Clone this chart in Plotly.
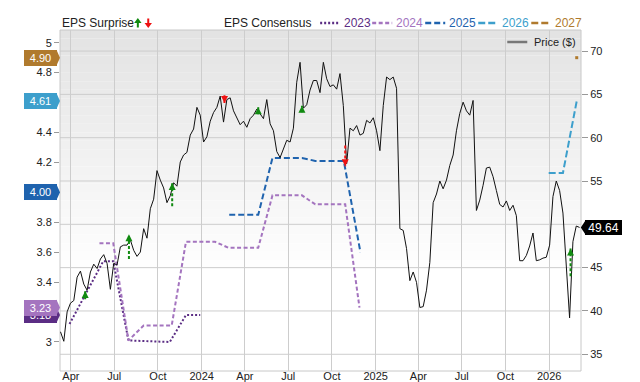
import pandas as pd
import plotly.graph_objects as go

# ---------------- data ----------------
price_start = "2023-03-10"
prices = [37.6, 36.5, 39.9, 40.9, 41.2, 43.9, 44.6, 43.1, 42.4, 44.5, 45.4, 44.9, 46.0, 46.5, 45.5,
          42.5, 45.5, 45.3, 47.4, 47.6, 47.6, 48.2, 47.0, 46.3, 46.8, 49.5, 48.4, 51.8, 52.9, 56.2,
          55.1, 54.2, 52.5, 53.3, 54.8, 54.4, 57.2, 58.0, 58.3, 60.3, 61.0, 63.5, 62.6, 59.5, 60.1,
          61.9, 62.9, 63.5, 64.8, 61.8, 64.4, 64.6, 63.1, 62.2, 61.5, 61.9, 61.2, 62.2, 62.6, 63.3,
          62.8, 62.2, 64.4, 61.6, 60.8, 58.4, 57.7, 58.8, 59.7, 59.5, 61.1, 66.4, 68.7, 63.4, 63.8,
          65.5, 66.6, 66.6, 65.2, 68.7, 66.8, 65.9, 66.1, 65.6, 67.4, 63.7, 57.0, 61.1, 60.8, 61.4,
          60.3, 60.5, 62.0, 61.7, 62.3, 60.8, 58.5, 63.7, 67.0, 66.7, 67.0, 65.7, 49.5, 49.3, 47.2,
          43.5, 44.5, 43.3, 40.4, 40.5, 42.4, 45.6, 52.5, 53.5, 55.0, 54.1, 55.1, 56.8, 58.0, 60.8,
          62.8, 64.1, 63.1, 62.6, 64.3, 51.6, 52.8, 54.5, 56.5, 56.6, 55.5, 53.9, 52.3, 52.0, 52.7,
          51.6, 52.2, 51.0, 45.8, 45.8, 46.4, 47.5, 49.0, 45.8, 45.9, 46.1, 46.2, 47.6, 53.2, 55.0,
          53.9, 51.3, 44.7, 39.2, 48.0, 49.8, 49.64]
price_dates = pd.date_range(price_start, periods=len(prices), freq="7D")

eps2023_dates = ["2023-03-29", "2023-06-08", "2023-06-29", "2023-07-31", "2023-10-26", "2023-11-29", "2023-12-29"]
eps2023_vals = [3.12, 3.54, 3.54, 3.01, 3.00, 3.18, 3.18]

eps2024_dates = ["2023-05-31", "2023-06-29", "2023-07-31", "2023-09-01", "2023-10-30", "2023-11-29",
                 "2024-01-29", "2024-02-26", "2024-04-29", "2024-05-29", "2024-07-30", "2024-08-27",
                 "2024-10-29", "2024-11-28"]
eps2024_vals = [3.66, 3.66, 3.01, 3.11, 3.11, 3.67, 3.67, 3.63, 3.63, 3.98, 3.98, 3.92, 3.92, 3.23]

eps2025_dates = ["2024-02-28", "2024-04-29", "2024-05-29", "2024-07-30", "2024-08-27", "2024-10-26", "2024-11-30"]
eps2025_vals = [3.85, 3.85, 4.23, 4.23, 4.21, 4.21, 3.60]

eps2026_dates = ["2025-12-31", "2026-01-30", "2026-02-28"]
eps2026_vals = [4.13, 4.13, 4.61]

eps2027_dates = ["2026-02-28"]
eps2027_vals = [4.90]

up_dates = ["2023-05-01", "2023-08-01", "2023-10-31", "2024-04-29", "2024-07-30", "2026-02-15"]
up_from = [41.35, 46.0, 52.1, 62.7, 62.95, 44.0]
up_to = [42.3, 48.85, 54.76, 63.5, 63.7, 47.2]
down_dates = ["2024-02-18", "2024-10-29"]
down_from = [64.9, 59.1]
down_to = [64.0, 56.7]

tag_labels = ["4.90", "4.61", "4.00", "3.18", "3.23"]
tag_values = [4.90, 4.61, 4.00, 3.18, 3.23]
tag_colors = ["#b07a2d", "#3d9fcc", "#1f63ae", "#5b2d84", "#a474bf"]
last_price = 49.64

# left tick labels visible (the others sit under the value tags)
left_tickvals = [3.0, 3.4, 3.6, 3.8, 4.2, 4.4, 4.8, 5.0]
left_ticktext = ["3", "3.4", "3.6", "3.8", "4.2", "4.4", "4.8", "5"]
right_tickvals = [35, 40, 45, 55, 60, 65, 70]
grid_right_vals = [35, 40, 45, 50, 55, 60, 65, 70]

x_tickvals = ["2023-04-01", "2023-07-01", "2023-10-01", "2024-01-01", "2024-04-01", "2024-07-01",
              "2024-10-01", "2025-01-01", "2025-04-01", "2025-07-01", "2025-10-01", "2026-01-01"]
x_ticktext = ["Apr", "Jul", "Oct", "2024", "Apr", "Jul", "Oct", "2025", "Apr", "Jul", "Oct", "2026"]

series_names = ["2023", "2024", "2025", "2026", "2027"]
series_colors = ["#5b2d84", "#a474bf", "#1f63ae", "#3d9fcc", "#b07a2d"]
series_dash = ["2px,2px", "4px,2.5px", "6px,3px", "7px,3px", "7px,3px"]

# ---------------- layout geometry ----------------
W, H = 640, 382
L, R, T, B = 60, 580.7, 30, 370.7
PW, PH = R - L, B - T
FONT = "Liberation Sans, Arial, sans-serif"


def px(xp):
    return (xp - L) / PW


def py(yp):
    return (B - yp) / PH


fig = go.Figure()

eps_sets = [(eps2023_dates, eps2023_vals), (eps2024_dates, eps2024_vals), (eps2025_dates, eps2025_vals),
            (eps2026_dates, eps2026_vals)]
for (d, v), name, col, dash in zip(eps_sets, series_names, series_colors, series_dash):
    fig.add_trace(go.Scatter(x=d, y=v, mode="lines", yaxis="y", name=name,
                             line=dict(color=col, width=2, dash=dash), hoverinfo="skip"))
fig.add_trace(go.Scatter(x=eps2027_dates, y=eps2027_vals, mode="markers", yaxis="y",
                         marker=dict(color=series_colors[4], size=3, symbol="square"), hoverinfo="skip"))

fig.add_trace(go.Scatter(x=price_dates, y=prices, mode="lines", yaxis="y2", name="Price ($)",
                         line=dict(color="#111111", width=1), hoverinfo="skip"))

# surprise arrows
ux, uy = [], []
for d, a, b in zip(up_dates, up_from, up_to):
    ux += [d, d, None]
    uy += [a, b, None]
dx, dy = [], []
for d, a, b in zip(down_dates, down_from, down_to):
    dx += [d, d, None]
    dy += [a, b, None]
fig.add_trace(go.Scatter(x=ux, y=uy, mode="lines", yaxis="y2", line=dict(color="#118a11", width=2, dash="3px,2px"),
                         hoverinfo="skip"))
fig.add_trace(go.Scatter(x=up_dates, y=up_to, mode="markers", yaxis="y2",
                         marker=dict(symbol="arrow-up", size=7, color="#118a11"), hoverinfo="skip"))
fig.add_trace(go.Scatter(x=dx, y=dy, mode="lines", yaxis="y2", line=dict(color="#ee1111", width=2, dash="3px,2px"),
                         hoverinfo="skip"))
fig.add_trace(go.Scatter(x=down_dates, y=down_to, mode="markers", yaxis="y2",
                         marker=dict(symbol="arrow-down", size=7, color="#ee1111"), hoverinfo="skip"))

shapes = []
# gradient background
N = 40
for i in range(N):
    t = (i + 0.5) / N
    v = int(round(227 + (255 - 227) * min(1.0, t / 0.72)))
    shapes.append(dict(type="rect", xref="paper", yref="paper", x0=0, x1=1,
                       y0=1 - i / N, y1=1 - (i + 1) / N, line=dict(width=0),
                       fillcolor=f"rgb({v},{v},{v})", layer="below"))
# horizontal price gridlines (incl. the one under the price tag)
for gv in grid_right_vals:
    shapes.append(dict(type="line", xref="paper", yref="y2", x0=0, x1=1, y0=gv, y1=gv,
                       line=dict(color="#cdcdcd", width=1), layer="below"))
shapes.append(dict(type="rect", xref="paper", yref="paper", x0=0, x1=1, y0=0, y1=1,
                   line=dict(color="#c8c8c8", width=1), layer="below"))

annotations = []
# header legend
annotations.append(dict(text="EPS Surprise", x=px(60), y=py(23), xref="paper", yref="paper",
                        xanchor="left", yanchor="middle", showarrow=False,
                        font=dict(size=12, color="#222", family=FONT)))
annotations.append(dict(text="EPS Consensus", x=px(222), y=py(23), xref="paper", yref="paper",
                        xanchor="left", yanchor="middle", showarrow=False,
                        font=dict(size=12, color="#222", family=FONT)))
gx, rx = 137.8, 148.2


def path(points):
    return "M " + " L ".join(f"{px(a):.5f},{py(b):.5f}" for a, b in points) + " Z"


shapes.append(dict(type="path", xref="paper", yref="paper", fillcolor="#118a11", line=dict(width=0),
                   path=path([(gx - 3.7, 23), (gx, 18), (gx + 3.7, 23), (gx + 1, 23), (gx + 1, 27.5),
                              (gx - 1, 27.5), (gx - 1, 23)])))
shapes.append(dict(type="path", xref="paper", yref="paper", fillcolor="#ee1111", line=dict(width=0),
                   path=path([(rx - 3.7, 23), (rx, 28), (rx + 3.7, 23), (rx + 1, 23), (rx + 1, 18.5),
                              (rx - 1, 18.5), (rx - 1, 23)])))

leg_x = [320, 372, 425, 478, 531]
for xs, name, col, dash in zip(leg_x, series_names, series_colors, series_dash):
    shapes.append(dict(type="line", xref="paper", yref="paper", x0=px(xs), x1=px(xs + 20),
                       y0=py(23), y1=py(23), line=dict(color=col, width=2.5, dash=dash)))
    annotations.append(dict(text=name, x=px(xs + 22), y=py(23), xref="paper", yref="paper",
                            xanchor="left", yanchor="middle", showarrow=False,
                            font=dict(size=12, color=col, family=FONT)))
# price legend
shapes.append(dict(type="line", xref="paper", yref="paper", x0=px(507), x1=px(527),
                   y0=py(42), y1=py(42), line=dict(color="#777", width=2.5)))
annotations.append(dict(text="Price ($)", x=px(532), y=py(42), xref="paper", yref="paper",
                        xanchor="left", yanchor="middle", showarrow=False,
                        font=dict(size=11, color="#222", family=FONT)))

# left value tags
for lab, val, col in zip(tag_labels, tag_values, tag_colors):
    annotations.append(dict(text=lab, x=px(40.3), y=val, xref="paper", yref="y", xanchor="center",
                            yanchor="middle", showarrow=False, width=33, height=16, bgcolor=col,
                            borderpad=0, borderwidth=0, font=dict(size=11, color="white", family=FONT)))
    shapes.append(dict(type="path", xref="paper", yref="y", xsizemode="pixel", ysizemode="pixel",
                       xanchor=0, yanchor=val, path="M -3.6,8 L 0,0 L -3.6,-8 Z",
                       fillcolor=col, line=dict(width=0)))
# right price tag
annotations.append(dict(text=f"{last_price:.2f}", x=px(603.5), y=last_price, xref="paper", yref="y2",
                        xanchor="center", yanchor="middle", showarrow=False, width=37, height=15,
                        bgcolor="black", borderpad=0, borderwidth=0,
                        font=dict(size=12, color="white", family=FONT)))
shapes.append(dict(type="path", xref="paper", yref="y2", xsizemode="pixel", ysizemode="pixel",
                   xanchor=px(580.5), yanchor=last_price, path="M 0,0 L 5,7.5 L 5,-7.5 Z",
                   fillcolor="black", line=dict(width=0)))

fig.update_layout(
    width=W, height=H, autosize=False,
    margin=dict(l=L, r=W - R, t=T, b=H - B, pad=0),
    paper_bgcolor="white", plot_bgcolor="rgba(0,0,0,0)",
    showlegend=False, template="none",
    font=dict(family=FONT, size=11, color="#222"),
    shapes=shapes, annotations=annotations,
    xaxis=dict(type="date", range=["2023-03-09", "2026-03-09"], tickvals=x_tickvals, ticktext=x_ticktext,
               showgrid=True, gridcolor="#cdcdcd", gridwidth=1, ticks="", showline=False, zeroline=False,
               tickfont=dict(size=11, color="#222"), automargin=False, fixedrange=True,
               ticklabelstandoff=-3),
    yaxis=dict(range=[2.806, 5.085], tickvals=left_tickvals, ticktext=left_ticktext, showgrid=False,
               zeroline=False, ticks="outside", ticklen=5, tickcolor="#999",
               tickfont=dict(size=11, color="#222"), automargin=False, showline=False),
    yaxis2=dict(range=[33.07, 72.43], tickvals=right_tickvals, overlaying="y", side="right", showgrid=False,
                zeroline=False, ticks="outside", ticklen=6, tickcolor="#999",
                tickfont=dict(size=11, color="#222"), automargin=False, showline=False),
)

fig.write_html("out.html")
